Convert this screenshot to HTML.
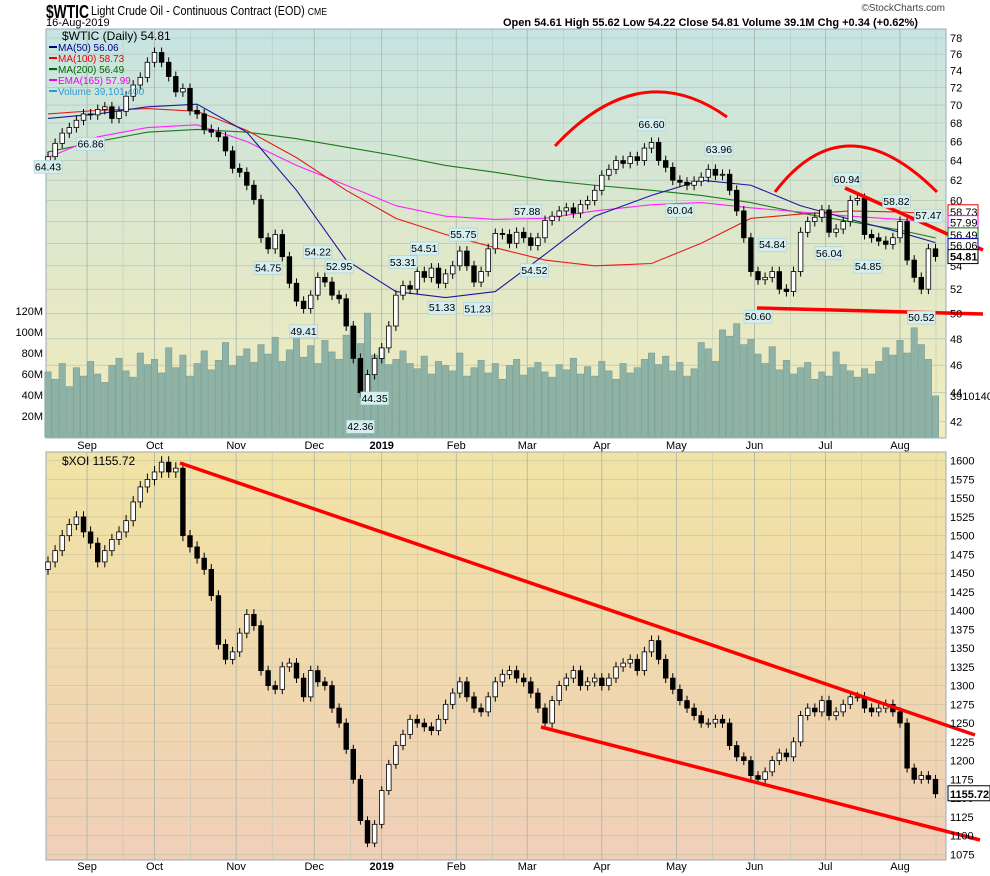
<!DOCTYPE html>
<html><head><meta charset="utf-8"><style>
html,body{margin:0;padding:0;background:#fff;}
svg{display:block;font-family:"Liberation Sans",sans-serif;}
</style></head><body>
<svg id="c" width="990" height="876" viewBox="0 0 990 876">
<defs>
<linearGradient id="gt" x1="0" y1="0" x2="0" y2="1"><stop offset="0" stop-color="#c6e4e2"/><stop offset="0.6" stop-color="#e2e8c8"/><stop offset="1" stop-color="#f2ecbc"/></linearGradient>
<linearGradient id="gb" x1="0" y1="0" x2="0" y2="1"><stop offset="0" stop-color="#f1e3a4"/><stop offset="1" stop-color="#f0cfb8"/></linearGradient>
</defs>
<text x="46" y="18" font-size="18" font-weight="bold" textLength="43" lengthAdjust="spacingAndGlyphs">$WTIC</text>
<text x="91" y="15" font-size="12.5" textLength="236" lengthAdjust="spacingAndGlyphs">Light Crude Oil - Continuous Contract (EOD) <tspan font-size="10">CME</tspan></text>
<text x="46" y="26" font-size="11">16-Aug-2019</text>
<text x="503" y="26" font-size="11" font-weight="bold">Open 54.61  High 55.62  Low 54.22  Close 54.81  Volume 39.1M  Chg +0.34 (+0.62%)</text>
<text x="945" y="11" font-size="10" text-anchor="end" fill="#444">©StockCharts.com</text>
<rect x="46" y="29" width="900" height="409" fill="url(#gt)" stroke="#9ab"/>
<rect x="46" y="452" width="900" height="408" fill="url(#gb)" stroke="#9ab"/>
<g id="grid"></g><g id="vol"></g><g id="ma"></g><g id="candTop"></g><g id="candBot"></g><g id="anno"></g><g id="labels"></g>
</svg>
<script>
const wtiClose=[64.4,65.8,66.9,67.5,68.3,69.0,68.9,69.5,69.8,68.5,69.3,71.0,72.3,73.2,75.0,76.2,75.0,73.3,71.5,71.9,69.4,69.0,67.3,67.0,66.5,65.0,63.2,62.8,61.5,60.1,56.5,55.5,56.8,54.8,52.5,51.0,50.4,51.5,53.0,52.6,51.5,51.2,49.0,46.5,44.0,45.3,46.5,47.3,49.0,51.5,52.3,52.0,53.5,53.0,53.8,52.5,53.3,54.0,55.3,54.0,52.6,53.5,55.5,56.9,56.8,56.0,57.0,56.5,55.8,56.5,58.1,58.5,59.0,59.3,58.8,59.6,60.0,61.0,62.5,63.1,64.0,63.7,64.4,64.0,65.3,65.9,64.0,63.3,62.0,61.8,61.5,61.9,62.3,63.1,62.5,62.6,61.0,59.0,56.5,53.5,52.8,53.0,53.5,52.0,51.8,53.5,57.0,58.0,58.4,59.1,57.0,57.3,58.0,60.0,60.2,56.8,56.5,56.2,55.9,56.5,58.0,54.5,53.0,52.0,55.5,54.81];
const volume=[62,55,70,48,66,58,72,60,52,68,75,63,57,80,69,74,61,85,66,78,58,70,82,64,73,90,68,77,84,71,88,79,95,72,83,99,76,87,70,92,81,74,97,105,89,118,78,85,69,74,82,70,65,77,60,72,68,63,80,58,66,73,61,70,55,68,74,59,66,71,62,57,69,64,75,60,67,58,72,63,55,70,61,66,74,80,69,77,63,71,58,65,90,84,72,102,96,108,88,93,79,70,86,64,73,60,66,71,55,62,58,81,69,63,57,65,60,72,85,78,92,80,104,88,74,39.1];
const maK=[0,7,14,21,28,35,42,49,56,63,70,77,85,92,99,106,113,120,125];
const ma50=[68.5,69.0,69.8,70.1,67.0,61.0,54.5,51.8,51.3,51.8,55.0,58.5,60.5,62.0,61.5,59.5,58.2,57.0,56.06];
const ma100=[69.0,69.4,69.6,69.3,67.2,64.3,61.0,58.3,56.8,55.6,54.5,54.0,54.2,56.0,58.3,58.7,59.0,58.9,58.73];
const ma200=[64.9,66.0,67.0,67.3,67.0,66.3,65.4,64.5,63.5,62.8,62.0,61.5,61.0,60.5,59.8,58.8,58.0,57.2,56.49];
const ema165=[64.3,66.5,67.5,67.8,66.0,63.5,61.5,59.5,58.5,58.2,58.3,59.0,59.6,59.8,59.3,58.9,58.5,58.2,57.99];
const xoiClose=[1465,1480,1500,1515,1525,1505,1490,1465,1480,1495,1505,1520,1545,1565,1575,1585,1598,1585,1590,1500,1485,1470,1455,1420,1355,1335,1345,1370,1395,1380,1320,1300,1295,1325,1330,1310,1285,1320,1305,1300,1270,1250,1215,1175,1120,1090,1115,1160,1195,1220,1235,1255,1250,1245,1240,1255,1275,1290,1305,1285,1270,1265,1285,1305,1315,1320,1310,1305,1290,1270,1250,1280,1300,1310,1320,1300,1305,1310,1300,1310,1325,1330,1335,1320,1345,1360,1335,1310,1295,1280,1270,1260,1250,1250,1255,1250,1220,1205,1200,1180,1175,1185,1200,1210,1205,1225,1260,1270,1265,1280,1260,1265,1275,1285,1285,1270,1265,1270,1275,1265,1250,1190,1175,1180,1175,1155.72];
const topTicks=[42,44,46,48,50,52,54,56,58,60,62,64,66,68,70,72,74,76,78];
const botTicks=[1075,1100,1125,1150,1175,1200,1225,1250,1275,1300,1325,1350,1375,1400,1425,1450,1475,1500,1525,1550,1575,1600];
const volTicks=[20,40,60,80,100,120];
const months=["Sep","Oct","Nov","Dec","2019","Feb","Mar","Apr","May","Jun","Jul","Aug"];
const monthK=[5.5,15,26.5,37.5,47,57.5,67.5,78,88.5,99.5,109.5,120];
const priceNotes=[[0,64.43,"b"],[6,66.86,"b"],[31,54.75,"b"],[38,54.22,"a"],[41,52.95,"a"],[36,49.41,"b"],[50,53.31,"a"],[53,54.51,"a"],[55.5,51.33,"b"],[58.5,55.75,"a"],[60.5,51.23,"b"],[67.5,57.88,"a"],[68.5,54.52,"b"],[85,66.6,"a"],[89,60.04,"b"],[94.5,63.96,"a"],[100,50.6,"b"],[102,54.84,"a"],[110,56.04,"b"],[112.5,60.94,"a"],[115.5,54.85,"b"],[119.5,58.82,"a"],[124,57.47,"a"],[123,50.52,"b"],[44,42.36,"b"],[46,44.35,"b"]];

const NS="http://www.w3.org/2000/svg";
const xOf=k=>48+k*7.1;
const yTop=v=>38+Math.log(78/v)*619.5;
const yBot=v=>460.7+(1600-v)*0.7497;
const yVol=v=>437-v*1.05;
function mk(parent,tag,attrs,txt){const e=document.createElementNS(NS,tag);for(const a in attrs)e.setAttribute(a,attrs[a]);if(txt!==undefined)e.textContent=txt;document.getElementById(parent).appendChild(e);return e;}

topTicks.forEach(t=>{const y=yTop(t);
 let l=mk('grid','line',{x1:46,x2:946,y1:y,y2:y,stroke:'#aebfb4','stroke-width':0.6});
 
 let tx=mk('labels','text',{x:950,y:y+4,'font-size':11},String(t));
 });
botTicks.forEach(t=>{const y=yBot(t);
 let l=mk('grid','line',{x1:46,x2:946,y1:y,y2:y,stroke:'#c8c0a0','stroke-width':0.6});
 
 let tx=mk('labels','text',{x:950,y:y+4,'font-size':11},String(t));
 });
volTicks.forEach(t=>{const y=yVol(t);
 let tx=mk('labels','text',{x:43,y:y+4,'font-size':11,'text-anchor':'end'},t+'M');
 });
months.forEach((m,i)=>{const x=xOf(monthK[i]);
 [[29,438],[452,860]].forEach(r=>{let l=mk('grid','line',{x1:x,x2:x,y1:r[0],y2:r[1],stroke:'#a8b4a8','stroke-width':0.8});
  
  let h=mk('grid','line',{x1:x+36,x2:x+36,y1:r[0],y2:r[1],stroke:'#b8c4b8','stroke-width':0.5});
  });
 [449,870].forEach(y=>{let tx=mk('labels','text',{x:x,y:y,'font-size':11,'text-anchor':'middle','font-weight':m==='2019'?'bold':'normal'},m);
  });});

volume.forEach((v,k)=>{let r=mk('vol','rect',{x:xOf(k)-3.2,y:yVol(v),width:6.4,height:437-yVol(v),fill:'#8fb2a6',stroke:'#7a9e92','stroke-width':0.6});
 });

function line(arr,col,name){const pts=arr.map((v,i)=>xOf(maK[i])+','+yTop(v)).join(' ');
 let p=mk('ma','polyline',{points:pts,fill:'none',stroke:col,'stroke-width':1.1});
 }
line(ma200,'#1a7a1a','ma200-line');line(ema165,'#ff22ff','ema165-line');line(ma100,'#e81c1c','ma100-line');line(ma50,'#1a1a9a','ma50-line');

function candles(arr,ys,g,wk,first){arr.forEach((c,k)=>{const o=k?arr[k-1]:first;const hi=Math.max(o,c)*(1+wk),lo=Math.min(o,c)*(1-wk);const x=xOf(k);
 let w=mk(g,'line',{x1:x,x2:x,y1:ys(hi),y2:ys(lo),stroke:'#000','stroke-width':1});
 
 const t=Math.min(ys(o),ys(c)),b=Math.max(ys(o),ys(c));
 let r=mk(g,'rect',{x:x-2.3,y:t,width:4.6,height:Math.max(1,b-t),fill:c>=o?'#fff':'#000',stroke:'#000','stroke-width':0.8});
 });}
candles(wtiClose,yTop,'candTop',0.008,64.0);
candles(xoiClose,yBot,'candBot',0.005,1455);

[["M555,146 Q640,55 727,117","arc-left"],["M775,192 Q845,100 937,192","arc-right"]].forEach(a=>{let p=mk('anno','path',{d:a[0],fill:'none',stroke:'#f00','stroke-width':3});
 });
[[845,188,983,250,'top-resistance-line'],[757,308,983,314,'top-support-line'],[180,463,975,735,'xoi-upper-channel'],[541,727,980,840,'xoi-lower-channel']].forEach(l=>{
 let e=mk('anno','line',{x1:l[0],y1:l[1],x2:l[2],y2:l[3],stroke:'#f00','stroke-width':3.5});
 });

priceNotes.forEach(n=>{const x=xOf(n[0]);const y=yTop(n[1]);const ty=n[2]==='a'?y-8:y+14;
 let r=mk('labels','rect',{x:x-14,y:ty-10,width:28,height:13,fill:'#d6eef0',stroke:'#9cc','stroke-width':0.5});
 
 let t=mk('labels','text',{x:x,y:ty,'font-size':10.5,'text-anchor':'middle'},n[1].toFixed(2));
 });

function tag(y,txt,col,name,bold){let r=mk('labels','rect',{x:948,y:y-7,width:30,height:14,fill:'#fff',stroke:col,'stroke-width':1});
 
 let t=mk('labels','text',{x:950,y:y+4,'font-size':11,fill:'#000','font-weight':bold?'bold':'normal'},txt);
 }
tag(yTop(58.73)-2,'58.73','#e00','ma100-value');tag(yTop(57.99)+1,'57.99','#f0f','ema165-value');
tag(yTop(56.49)-3,'56.49','#070','ma200-value');tag(yTop(56.06)+3,'56.06','#00a','ma50-value');
tag(yTop(54.81),'54.81','#000','last-price-value',true);
let vt=mk('labels','text',{x:950,y:yVol(39.1)+4,'font-size':11},'3910140');
let xr=mk('labels','rect',{x:948,y:yBot(1155.72)-8,width:42,height:15,fill:'#fff',stroke:'#000','stroke-width':1});
let xt=mk('labels','text',{x:950,y:yBot(1155.72)+4,'font-size':11,'font-weight':'bold'},'1155.72');

const leg=[["$WTIC (Daily) 54.81","#000"],["MA(50) 56.06","#00008b"],["MA(100) 58.73","#e00"],["MA(200) 56.49","#060"],["EMA(165) 57.99","#e0e"],["Volume 39,101,400","#39c"]];
leg.forEach((l,i)=>{let t=mk('labels','text',{x:i?58:62,y:40+i*11,'font-size':i?10:12,fill:l[1]},l[0]);
 
 if(i){let s=mk('labels','line',{x1:49,x2:57,y1:36+i*11,y2:36+i*11,stroke:l[1],'stroke-width':2});}});
let xl=mk('labels','text',{x:62,y:465,'font-size':12},'$XOI 1155.72');
</script>
</body></html>
